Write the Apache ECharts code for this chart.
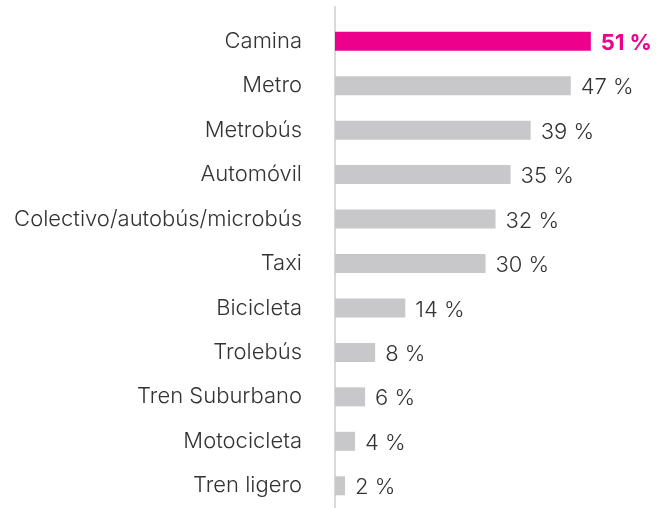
<!DOCTYPE html>
<html>
<head>
<meta charset="utf-8">
<script src="https://cdn.jsdelivr.net/npm/echarts@6/dist/echarts.min.js"></script>
<style>
  html, body { margin: 0; padding: 0; background: #fff; }
  #chart { width: 661px; height: 508px; }
</style>
</head>
<body>
<div id="chart"></div>
<script>
// Modos de transporte utilizados (%)
const categories = [
  'Camina', 'Metro', 'Metrobús', 'Automóvil', 'Colectivo/autobús/microbús',
  'Taxi', 'Bicicleta', 'Trolebús', 'Tren Suburbano', 'Motocicleta', 'Tren ligero'
];
const values = [51, 47, 39, 35, 32, 30, 14, 8, 6, 4, 2];
const highlight = 'Camina';

const PINK = '#EC008C';
const GRAY = '#C8C8CA';
const TEXT = '#333333';
const FONT = 'Inter, "Liberation Sans", Arial, sans-serif';

const chart = echarts.init(document.getElementById('chart'), null, { renderer: 'canvas' });

const seriesData = categories.map((c, i) => {
  const hot = c === highlight;
  return {
    value: values[i],
    itemStyle: { color: hot ? PINK : GRAY },
    label: hot ? { color: PINK, fontWeight: 'bold' } : {}
  };
});

chart.setOption({
  animation: false,
  grid: [
    { left: 335, top: 19, bottom: -5, width: 301, containLabel: false },
    { left: 335, top: 7, bottom: 0, width: 1, containLabel: false }
  ],
  xAxis: [
    { gridIndex: 0, type: 'value', min: 0, max: 60, show: false },
    { gridIndex: 1, type: 'value', min: 0, max: 1, show: false }
  ],
  yAxis: [
    {
      gridIndex: 0,
      type: 'category',
      data: categories,
      inverse: true,
      axisLine: { show: false },
      axisTick: { show: false },
      axisLabel: {
        margin: 33,
        color: TEXT,
        fontSize: 22,
        fontWeight: 300,
        fontFamily: FONT,
        padding: [0, 0, 7, 0]
      }
    },
    {
      gridIndex: 1,
      type: 'category',
      data: [],
      axisLine: { show: true, lineStyle: { color: '#D9D9D9', width: 2 } },
      axisTick: { show: false },
      axisLabel: { show: false }
    }
  ],
  series: [
    {
      type: 'bar',
      xAxisIndex: 0,
      yAxisIndex: 0,
      data: seriesData,
      barWidth: 19,
      label: {
        show: true,
        position: 'right',
        distance: 10,
        offset: [0, 2],
        formatter: p => p.value + ' %',
        color: TEXT,
        fontSize: 22,
        fontWeight: 300,
        fontFamily: FONT
      }
    }
  ]
});
</script>
</body>
</html>
